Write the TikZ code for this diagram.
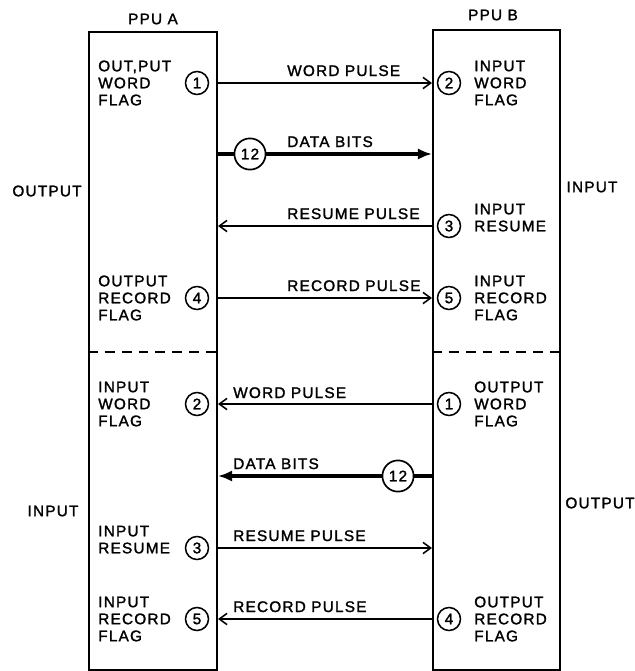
\documentclass[tikz,border=0pt]{standalone}
\usepackage{fontspec}
\setmainfont[LetterSpace=8,FakeBold=1.6]{Liberation Sans}
\usetikzlibrary{arrows.meta,positioning,calc}

\begin{document}
\begin{tikzpicture}[
    x=0.025cm, y=-0.025cm,
    font=\fontsize{10.9}{12.1}\selectfont,
    ppu/.style={draw, line width=1.4pt, anchor=north west, inner sep=0pt},
    flag/.style={align=left, anchor=west, inner sep=0pt},
    num/.style={draw, circle, line width=1.1pt, minimum size=0.575cm, inner sep=0pt},
    bits/.style={draw, circle, line width=1.2pt, minimum size=0.78cm, inner sep=0pt},
    pulse/.style={-{Straight Barb[length=5.5pt,width=8pt]}, line width=1.1pt},
    dataline/.style={line width=2.4pt},
    data/.style={-{Latex[length=10pt,width=8pt]}, line width=2.4pt},
    sig/.style={anchor=base west, inner sep=0pt},
    side/.style={inner sep=0pt},
    divider/.style={dash pattern=on 7pt off 5pt, line width=1.2pt}
]
\useasboundingbox (0,0) rectangle (635,671);

% the two units
\node[ppu, minimum width=3.2cm, minimum height=15.95cm] (ppuA) at (88,31) {};
\node[ppu, minimum width=3.175cm, minimum height=16cm] (ppuB) at (432,29) {};
\node[side] (nameA) at (153,19) {PPU A};
\node[side] (nameB) at (493,15) {PPU B};

\coordinate (cut) at (0,352);
\foreach \u in {ppuA,ppuB}{\draw[divider] (cut -| \u.west) -- (cut -| \u.east);}

\node[side] (outA) at (47,191) {OUTPUT};
\node[side] (inB) at (592,187) {INPUT};
\node[side] (inA) at (53,511) {INPUT};
\node[side] (outB) at (600,503) {OUTPUT};

% flags in PPU A
\node[num] (a1) at (197,83) {1};
\node[num] (a4) at (197,298) {4};
\node[num] (a2) at (197,404) {2};
\node[num] (a3) at (197,548) {3};
\node[num] (a5) at (197,619) {5};
\node[flag] (fa1) at (98,83) {OUT,PUT\\WORD\\FLAG};
\node[flag] (fa4) at (98,298) {OUTPUT\\RECORD\\FLAG};
\node[flag] (fa2) at (98,404) {INPUT\\WORD\\FLAG};
\node[flag, yshift=0.21cm] (fa3) at (98,548) {INPUT\\RESUME};
\node[flag] (fa5) at (98,619) {INPUT\\RECORD\\FLAG};

% flags in PPU B
\node[num] (b2) at (449,83) {2};
\node[num] (b3) at (449,226) {3};
\node[num] (b5) at (449,298) {5};
\node[num] (b1) at (449,404) {1};
\node[num] (b4) at (449,619) {4};
\node[flag] (fb2) at (474,83) {INPUT\\WORD\\FLAG};
\node[flag, yshift=0.21cm] (fb3) at (474,226) {INPUT\\RESUME};
\node[flag] (fb5) at (474,298) {INPUT\\RECORD\\FLAG};
\node[flag] (fb1) at (474,404) {OUTPUT\\WORD\\FLAG};
\node[flag] (fb4) at (474,619) {OUTPUT\\RECORD\\FLAG};

% 12 data lines
\node[bits] (dA) at (250,154) {12};
\node[bits] (dB) at (398,476) {12};

% A -> B
\draw[pulse] (a1 -| ppuA.east) -- (a1 -| ppuB.west);
\draw[dataline] (dA -| ppuA.east) -- (dA);
\draw[data] (dA) -- (dA -| ppuB.west);
\draw[pulse] (b3 -| ppuB.west) -- (b3 -| ppuA.east);
\draw[pulse] (a4 -| ppuA.east) -- (a4 -| ppuB.west);
\node[sig] (wpA) at (287,76) {WORD PULSE};
\node[sig] (dbA) at (287,147) {DATA BITS};
\node[sig] (rsA) at (287,219) {RESUME PULSE};
\node[sig] (rcA) at (287,291) {RECORD PULSE};

% B -> A
\draw[pulse] (b1 -| ppuB.west) -- (b1 -| ppuA.east);
\draw[dataline] (dB -| ppuB.west) -- (dB);
\draw[data] (dB) -- (dB -| ppuA.east);
\draw[pulse] (a3 -| ppuA.east) -- (a3 -| ppuB.west);
\draw[pulse] (b4 -| ppuB.west) -- (b4 -| ppuA.east);
\node[sig] (wpB) at (233,398) {WORD PULSE};
\node[sig] (dbB) at (233,469) {DATA BITS};
\node[sig] (rsB) at (233,541) {RESUME PULSE};
\node[sig] (rcB) at (233,612) {RECORD PULSE};
\end{tikzpicture}
\end{document}
